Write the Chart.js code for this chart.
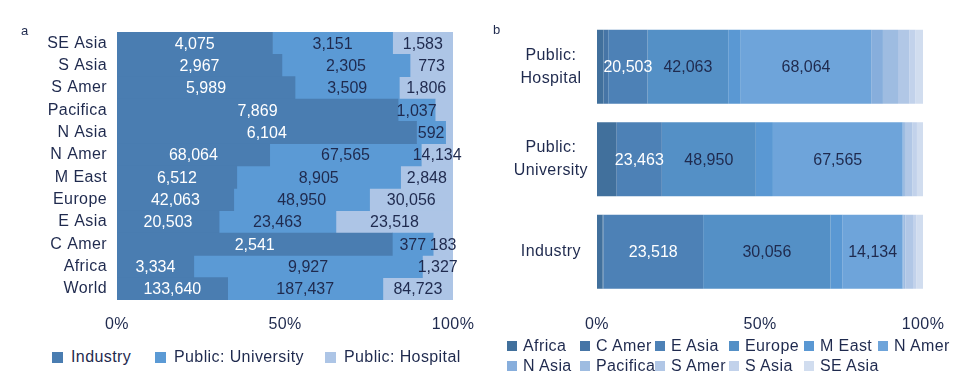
<!DOCTYPE html>
<html>
<head>
<meta charset="utf-8">
<script src="https://cdn.jsdelivr.net/npm/chart.js@4.4.1/dist/chart.umd.min.js"></script>
<style>
  html, body { margin: 0; padding: 0; background: #ffffff; }
  body { width: 966px; height: 387px; position: relative; overflow: hidden;
         font-family: "Liberation Sans", Arial, sans-serif; color: #1f2a4e; }
  #cA { position: absolute; left: 0; top: 0; }
  #cB { position: absolute; left: 480px; top: 0; }
  .tag { position: absolute; font-size: 13px; line-height: 13px; }
  .li { position: absolute; font-size: 16px; line-height: 16px; white-space: nowrap; letter-spacing: 0.4px; }
  .li i { position: absolute; left: 0; display: block; }
</style>
</head>
<body>
<canvas id="cA" width="480" height="340"></canvas>
<canvas id="cB" width="486" height="340"></canvas>
<div class="tag" style="left:21px;top:24px;">a</div>
<div class="tag" style="left:493px;top:23px;">b</div>
<div id="legA"></div>
<div id="legB"></div>
<script>
// ---------- DATA ----------
const regionsA = ['SE Asia','S Asia','S Amer','Pacifica','N Asia','N Amer','M East','Europe','E Asia','C Amer','Africa','World'];
const seriesNames = ['Industry','Public: University','Public: Hospital'];
const industry   = [4075, 2967, 5989, 7869, 6104, 68064, 6512, 42063, 20503, 2541, 3334, 133640];
const university = [3151, 2305, 3509, 1037,  592, 67565, 8905, 48950, 23463,  377, 9927, 187437];
const hospital   = [1583,  773, 1806,  500,  150, 14134, 2848, 30056, 23518,  183, 1327, 84723];
const hiddenLabelsA = [['Public: Hospital','Pacifica'], ['Public: Hospital','N Asia']];

const regionsB = ['Africa','C Amer','E Asia','Europe','M East','N Amer','N Asia','Pacifica','S Amer','S Asia','SE Asia'];
const rowLabelsB = [['Public:','Hospital'], ['Public:','University'], ['Industry']];
const rowSourceB = [industry, university, hospital];   // series shown in each row of panel b
const labelledRegionsB = ['E Asia','Europe','N Amer'];
const xTicks = [0, 50, 100];

// ---------- STYLE ----------
const TXT = '#1f2a4e';
const FONT = '"Liberation Sans", Arial, sans-serif';
const colorsA = ['#4a7db1', '#5b9ad5', '#adc5e6'];
const labelColorsA = ['#ffffff', TXT, TXT];
const colorsB = ['#41709c','#4675a6','#4d81b6','#5490c6','#5a98d3','#6ea4da','#87aedc','#9ebce1','#b1c7e6','#c2d2eb','#d1ddef'];
const labelColorB = { 'E Asia': '#ffffff' };

Chart.defaults.font.family = FONT;
Chart.defaults.font.size = 16;
Chart.defaults.color = TXT;

const fmt = v => v.toLocaleString('en-US');

const spacing = {
  id: 'spacing',
  beforeUpdate(chart) { chart.ctx.letterSpacing = '0.4px'; },
  beforeDraw(chart) { chart.ctx.letterSpacing = '0.4px'; }
};

const segLabels = {
  id: 'segLabels',
  afterDatasetsDraw(chart) {
    const ctx = chart.ctx;
    ctx.save();
    ctx.letterSpacing = '0px';
    ctx.font = '16px ' + FONT;
    ctx.textAlign = 'center';
    ctx.textBaseline = 'middle';
    chart.data.datasets.forEach((ds, di) => {
      const meta = chart.getDatasetMeta(di);
      meta.data.forEach((el, i) => {
        if (!ds.showLabel[i]) return;
        const p = el.getProps(['x', 'base', 'y'], true);
        ctx.fillStyle = ds.labelColor;
        ctx.fillText(fmt(ds.raw[i]), (p.x + p.base) / 2, p.y + 1);
      });
    });
    ctx.restore();
  }
};

// ---------- PANEL A ----------
const seriesA = [industry, university, hospital];
const totalsA = regionsA.map((_, i) => industry[i] + university[i] + hospital[i]);
const dsA = seriesA.map((arr, s) => ({
  label: seriesNames[s],
  data: arr.map((v, i) => v / totalsA[i] * 100),
  raw: arr,
  showLabel: regionsA.map(r => !hiddenLabelsA.some(h => h[0] === seriesNames[s] && h[1] === r)),
  labelColor: labelColorsA[s],
  backgroundColor: colorsA[s],
  borderWidth: 0,
  barPercentage: 1,
  categoryPercentage: 1
}));

const pctTick = v => xTicks.includes(v) ? v + '%' : '';

new Chart(document.getElementById('cA'), {
  type: 'bar',
  data: { labels: regionsA, datasets: dsA },
  options: {
    indexAxis: 'y',
    responsive: false,
    animation: false,
    layout: { padding: { top: 32, right: 27, left: 0, bottom: 0 } },
    plugins: { legend: { display: false }, tooltip: { enabled: false } },
    scales: {
      x: {
        stacked: true, min: 0, max: 100,
        grid: { display: false, drawTicks: true, tickLength: 15 }, border: { display: false },
        ticks: { stepSize: 50, callback: pctTick, padding: 0, maxRotation: 0 },
        afterFit: s => { s.height = 40; }
      },
      y: {
        stacked: true,
        grid: { display: false, drawTicks: false }, border: { display: false },
        ticks: { padding: 10, autoSkip: false },
        afterFit: s => { s.width = 117; }
      }
    }
  },
  plugins: [spacing, segLabels]
});

// ---------- PANEL B ----------
const totalsB = rowSourceB.map(src => regionsB.reduce((a, r) => a + src[regionsA.indexOf(r)], 0));
const dsB = regionsB.map((r, k) => {
  const idx = regionsA.indexOf(r);
  const raw = rowSourceB.map(src => src[idx]);
  return {
    label: r,
    data: raw.map((v, row) => v / totalsB[row] * 100),
    raw: raw,
    showLabel: raw.map(() => labelledRegionsB.includes(r)),
    labelColor: labelColorB[r] || TXT,
    backgroundColor: colorsB[k],
    borderWidth: 0,
    barPercentage: 0.8,
    categoryPercentage: 1
  };
});

new Chart(document.getElementById('cB'), {
  type: 'bar',
  data: { labels: rowLabelsB, datasets: dsB },
  options: {
    indexAxis: 'y',
    responsive: false,
    animation: false,
    layout: { padding: { top: 18, right: 43, left: 0, bottom: 0 } },
    plugins: { legend: { display: false }, tooltip: { enabled: false } },
    scales: {
      x: {
        stacked: true, min: 0, max: 100,
        grid: { display: false, drawTicks: true, tickLength: 17 }, border: { display: false },
        ticks: { stepSize: 50, callback: pctTick, padding: 0, maxRotation: 0 },
        afterFit: s => { s.height = 42; }
      },
      y: {
        stacked: true,
        grid: { display: false, drawTicks: false }, border: { display: false },
        ticks: { padding: 9, crossAlign: 'center', autoSkip: false,
                 font: { size: 16, lineHeight: 1.45 } },
        afterFit: s => { s.width = 117; }
      }
    }
  },
  plugins: [spacing, segLabels]
});

// ---------- LEGENDS (HTML, real text) ----------
function addLegendItem(parent, text, color, left, top, box, gap) {
  const d = document.createElement('div');
  d.className = 'li';
  d.style.left = left + 'px';
  d.style.top = (top - 8) + 'px';
  d.style.paddingLeft = (box + gap) + 'px';
  const b = document.createElement('i');
  b.style.width = box + 'px';
  b.style.height = box + 'px';
  b.style.top = (8 - box / 2) + 'px';
  b.style.background = color;
  d.appendChild(b);
  d.appendChild(document.createTextNode(text));
  parent.appendChild(d);
}
const legA = document.getElementById('legA');
const legALeft = [52, 155, 325];
seriesNames.forEach((n, s) => addLegendItem(legA, n, colorsA[s], legALeft[s], 357, 11, 8));

const legB = document.getElementById('legB');
const legBCols = [507, 580, 655, 729, 804, 878];
const legBRows = [346, 366];
regionsB.forEach((r, k) => addLegendItem(legB, r, colorsB[k], legBCols[k % 6], legBRows[Math.floor(k / 6)], 10, 6));
</script>
</body>
</html>
